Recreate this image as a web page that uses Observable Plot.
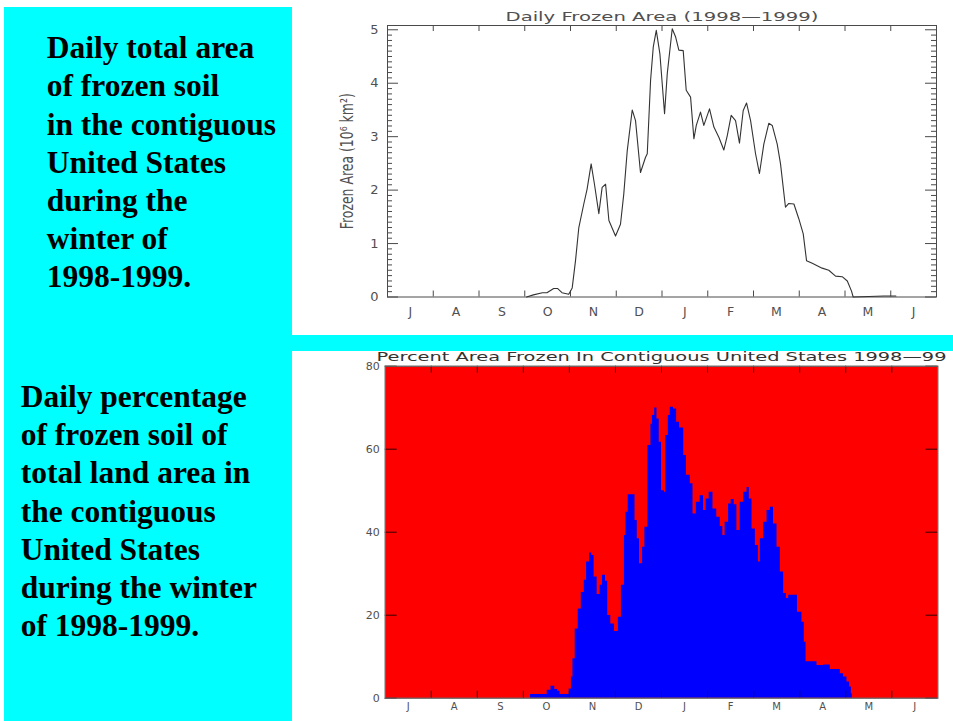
<!DOCTYPE html>
<html>
<head>
<meta charset="utf-8">
<script src="https://cdn.jsdelivr.net/npm/d3@7"></script>
<script src="https://cdn.jsdelivr.net/npm/@observablehq/plot@0.6"></script>
<style>
  html, body { margin: 0; padding: 0; background: #ffffff; }
  #page { position: relative; width: 953px; height: 721px; overflow: hidden; background: #ffffff; }
  .cyan { position: absolute; background: #00ffff; }
  .blurb { position: absolute; font-family: "Liberation Serif", "Times New Roman", serif; font-weight: bold;
           font-size: 31.5px; line-height: 38.2px; color: #000; white-space: pre; }
  .chart { position: absolute; }
</style>
</head>
<body>
<div id="page">
  <div class="cyan" style="left:4px; top:7px; width:288px; height:714px;"></div>
  <div class="cyan" style="left:292px; top:335px; width:661px; height:16px;"></div>
  <div class="blurb" id="blurb1" style="left:46.7px; top:29.2px;"></div>
  <div class="blurb" id="blurb2" style="left:20.7px; top:377.9px;"></div>
  <div class="chart" id="top" style="left:292px; top:0px;"></div>
  <div class="chart" id="bottom" style="left:292px; top:351px;"></div>
</div>
<script>
// ---------- text ----------
const blurbTop = ["Daily total area", "of frozen soil", "in the contiguous", "United States", "during the", "winter of", "1998-1999."];
const blurbBottom = ["Daily percentage", "of frozen soil of", "total land area in", "the contiguous", "United States", "during the winter", "of 1998-1999."];

const topTitle = "Daily Frozen Area (1998\u20141999)";
const topYLabel = "Frozen Area (10\u2076 km\u00b2)";
const bottomTitle = "Percent Area Frozen In Contiguous United States 1998\u201499";

// month letters, July 1998 .. June 1999
const monthLetters = ["J", "A", "S", "O", "N", "D", "J", "F", "M", "A", "M", "J"];

// ---------- data: day = days since 1 July 1998 ----------
// Daily frozen area (10^6 km^2)
const areaDay = [92.5, 97, 103, 106, 110.5, 113, 116, 120.5, 122.8, 125, 127.2, 130.5, 132.7, 135.4, 137.6, 140.5, 142.7, 145, 147.2, 151.6,
  154.9, 157.1, 159.4, 162.7, 164.9, 168.2, 171.5, 172.7, 174.9, 176.7, 178.7, 181.1, 184.2, 186, 189.3, 191.5, 193.7, 196.6, 198.6, 201.5,
  203.7, 205.3, 208.1, 210.3, 214.1, 217, 220.3, 223.6, 225.9, 228.5, 231.4, 234, 236.5, 238.7, 241.4, 244.7, 247.3, 250.2, 253.5, 255.8,
  259.1, 261.3, 264.6, 266.8, 270.2, 273.5, 276.4, 278.6, 282.4, 286, 289, 293.4, 297.9, 302.3, 305.7, 308.5, 309.6, 320, 330, 338];
const areaVal = [0, 0.04, 0.08, 0.08, 0.16, 0.16, 0.08, 0.05, 0.17, 0.68, 1.30, 1.74, 2.02, 2.49, 2.11, 1.56, 2.05, 2.11, 1.43, 1.14,
  1.36, 1.93, 2.74, 3.50, 3.30, 2.33, 2.61, 2.68, 4.05, 4.68, 4.99, 4.55, 3.43, 4.18, 5.02, 4.87, 4.62, 4.61, 3.87, 3.74,
  2.96, 3.21, 3.46, 3.21, 3.52, 3.18, 2.99, 2.75, 3.02, 3.40, 3.30, 2.88, 3.49, 3.63, 3.30, 2.68, 2.31, 2.86, 3.25, 3.21,
  2.86, 2.49, 1.68, 1.75, 1.74, 1.46, 1.18, 0.68, 0.63, 0.58, 0.54, 0.50, 0.39, 0.38, 0.30, 0.11, 0.0, 0.01, 0.02, 0.02];

// Percent area frozen
const pctDay = [96, 107, 109.5, 112, 114, 115.5, 121.5, 123, 124, 125.5, 127.5, 129.5, 131.5, 133, 135, 136.5, 138, 140, 142, 143.5,
  145.5, 147, 149, 151.5, 154, 156, 158, 159, 160.5, 163, 165, 166.5, 168, 170, 171.5, 173.5, 175.5, 176.5, 178, 179.5,
  181, 182.5, 184.5, 185.3, 187, 188.3, 190.5, 192.5, 194.5, 197.2, 199, 201.5, 203.3, 205.5, 208, 210.3, 212, 214, 216.5, 219,
  221.3, 223, 224.5, 226.8, 228.5, 230.5, 232.3, 234.5, 236.8, 239, 240.5, 242.3, 244.5, 246.5, 247.8, 250, 252.2, 254.4, 256.5, 258.8,
  261, 263.2, 265, 266.5, 272.3, 275.3, 276.8, 278, 285.2, 289.6, 294, 300.6, 302.8, 305, 306.8, 307.9, 308.5];
const pctVal = [0.9, 1.9, 2.9, 2.1, 1.7, 0.9, 2.2, 5.1, 9.5, 16.7, 21.5, 25.5, 28.4, 32.8, 35.0, 34.4, 29.2, 25.0, 27.2, 29.6,
  28.2, 19.9, 17.9, 16.1, 19.5, 27.2, 39.2, 44.8, 49.0, 49.0, 42.8, 38.4, 32.4, 36.4, 41.2, 60.9, 66.0, 68.1, 69.9, 67.3,
  61.7, 50.0, 49.6, 63.3, 68.1, 70.1, 69.7, 66.5, 65.1, 58.5, 53.7, 51.7, 44.4, 47.2, 48.8, 45.2, 48.0, 49.6, 45.6, 43.6,
  41.4, 39.2, 42.4, 46.8, 47.9, 46.6, 40.4, 47.2, 49.6, 50.8, 48.0, 40.8, 36.8, 32.8, 38.4, 42.4, 45.2, 46.0, 42.0, 36.4,
  30.4, 25.2, 24.0, 24.8, 20.7, 18.3, 13.5, 8.8, 7.9, 8.0, 6.9, 5.9, 5.1, 3.9, 2.7, 1.1, 0];

const topYTicks = [0, 1, 2, 3, 4, 5];
const bottomYTicks = [0, 20, 40, 60, 80];

// ---------- build ----------
document.getElementById("blurb1").textContent = blurbTop.join("\n");
document.getElementById("blurb2").textContent = blurbBottom.join("\n");

const areaData = areaDay.map((d, i) => ({day: d, area: areaVal[i]}));
const pctData = pctDay.map((d, i) => ({day: d, pct: pctVal[i]}));

const monthEdges = d3.range(1, 12).map(i => i * 365 / 12);
const monthMids = monthLetters.map((m, i) => (i + 0.5) * 365 / 12);
const topMinor = d3.range(0, 51).map(i => i / 10).filter(v => !Number.isInteger(v));

const gray = "#4a4a4a";
const txt = "#505050";

// top chart geometry
const T = {w: 661, h: 335, ml: 95, mr: 17, mt: 25, mb: 38.5};
const TW = T.w - T.ml - T.mr, TH = T.h - T.mt - T.mb;

const topPlot = Plot.plot({
  width: T.w, height: T.h,
  marginLeft: T.ml, marginRight: T.mr, marginTop: T.mt, marginBottom: T.mb,
  x: {domain: [0, 365], axis: null},
  y: {domain: [0, 5.08], axis: null},
  style: {fontFamily: "DejaVu Sans", fontSize: "12px", background: "white", overflow: "visible"},
  marks: [
    Plot.frame({stroke: gray, strokeWidth: 1}),
    // y ticks left/right
    Plot.ruleY(topYTicks, {y: d => d, insetRight: TW - 11, stroke: gray}),
    Plot.ruleY(topYTicks, {y: d => d, insetLeft: TW - 11, stroke: gray}),
    Plot.ruleY(topMinor, {y: d => d, insetRight: TW - 5, stroke: gray}),
    Plot.ruleY(topMinor, {y: d => d, insetLeft: TW - 5, stroke: gray}),
    // month ticks bottom/top
    Plot.ruleX(monthEdges, {x: d => d, insetTop: TH - 6, stroke: gray}),
    Plot.ruleX(monthEdges, {x: d => d, insetBottom: TH - 6, stroke: gray}),
    Plot.line(areaData, {x: "day", y: "area", stroke: "#333", strokeWidth: 1.1}),
    Plot.text(monthLetters, {x: (d, i) => monthMids[i], frameAnchor: "bottom", lineAnchor: "middle", dy: 15, text: d => d, fill: txt, fontSize: 12.5}),
    Plot.text(topYTicks, {y: d => d, frameAnchor: "left", dx: -9, textAnchor: "end", lineAnchor: "middle", text: d => String(d), fill: txt, fontSize: 13}),
    Plot.text([topTitle], {frameAnchor: "top", dy: -9, textAnchor: "middle", lineAnchor: "middle", text: d => d, fill: txt, fontSize: 12.5}),
    Plot.text([topYLabel], {frameAnchor: "left", dx: -40, rotate: -90, textAnchor: "middle", lineAnchor: "middle", text: d => d, fill: txt, fontSize: 17})
  ]
});
document.getElementById("top").appendChild(topPlot);

// bottom chart geometry
const B = {w: 661, h: 370, ml: 92.7, mr: 15.7, mt: 14.7, mb: 23.3};
const BW = B.w - B.ml - B.mr, BH = B.h - B.mt - B.mb;

const bottomPlot = Plot.plot({
  width: B.w, height: B.h,
  marginLeft: B.ml, marginRight: B.mr, marginTop: B.mt, marginBottom: B.mb,
  x: {domain: [0, 365], axis: null},
  y: {domain: [0, 80], axis: null},
  style: {fontFamily: "DejaVu Sans", fontSize: "11px", background: "white", overflow: "visible"},
  marks: [
    Plot.frame({fill: "#ff0000", stroke: "none"}),
    Plot.areaY(pctData, {x: "day", y: "pct", fill: "#0000ff", curve: "step-after"}),
    Plot.ruleY(bottomYTicks, {y: d => d, insetRight: BW - 12, stroke: "#300"}),
    Plot.ruleY(bottomYTicks, {y: d => d, insetLeft: BW - 12, stroke: "#300"}),
    Plot.ruleX(monthEdges, {x: d => d, insetTop: BH - 7, stroke: "#111"}),
    Plot.ruleX(monthEdges, {x: d => d, insetBottom: BH - 7, stroke: "#111"}),
    Plot.frame({stroke: "#666", strokeWidth: 1.3}),
    Plot.text(monthLetters, {x: (d, i) => monthMids[i], frameAnchor: "bottom", lineAnchor: "middle", dy: 9, text: d => d, fill: txt, fontSize: 10}),
    Plot.text(bottomYTicks, {y: d => d, frameAnchor: "left", dx: -5.5, textAnchor: "end", lineAnchor: "middle", text: d => String(d), fill: txt, fontSize: 11}),
    Plot.text([bottomTitle], {frameAnchor: "top", dy: -9, textAnchor: "middle", lineAnchor: "middle", text: d => d, fill: "#333", fontSize: 13})
  ]
});
document.getElementById("bottom").appendChild(bottomPlot);

// stretch the vector-font style titles to the reference lengths
function fitText(svg, content, len) {
  for (const t of svg.querySelectorAll("text")) {
    if (t.textContent === content) {
      t.setAttribute("textLength", len);
      t.setAttribute("lengthAdjust", "spacingAndGlyphs");
    }
  }
}
fitText(topPlot, topTitle, 313);
fitText(topPlot, topYLabel, 136);
fitText(bottomPlot, bottomTitle, 570);
</script>
</body>
</html>
